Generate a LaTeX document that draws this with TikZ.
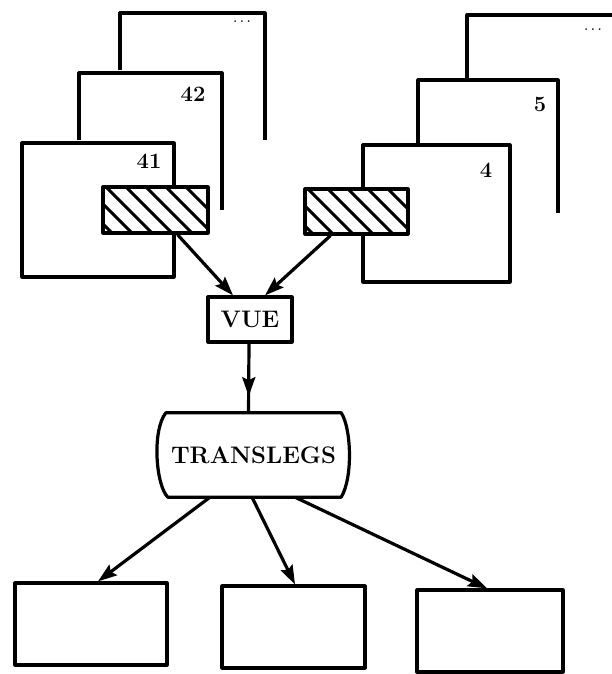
\documentclass[tikz,border=0pt]{standalone}
\usetikzlibrary{arrows.meta,calc,decorations.markings}
\begin{document}
\begin{tikzpicture}[x=1bp,y=-1bp,line join=round,
  ln/.style={line width=3.2bp},
  word/.style={font=\fontsize{24}{28}\selectfont\bfseries, inner sep=0pt},
  num/.style={font=\fontsize{22}{26}\selectfont\bfseries, inner sep=0pt},
  dots/.style={font=\fontsize{12}{14}\selectfont\bfseries, inner sep=0pt},
  sheet/.style={ln, draw, fill=white, rectangle, inner sep=0pt},
  hatchbox/.style={ln, draw, fill=white, rectangle, inner sep=0pt,
    path picture={\foreach \k in {-3,...,6}{
      \draw[line width=3bp] ($(path picture bounding box.north west)+(\k*20+3,0)$) -- ++(60,60);}}},
  box/.style={ln, draw, fill=white, rectangle, inner sep=0pt},
  tip/.style={-{Stealth[length=19bp,width=13bp,inset=3bp]}},
  midtip/.style={postaction=decorate, decoration={markings,
    mark=at position 0.76 with {\arrow{Stealth[length=19bp,width=13bp,inset=3bp]}}}}]
\useasboundingbox (0,0) rectangle (612,674);

% left stack of sheets
\draw[ln] (120,70) -- (120,13) -- (265,13) -- (265,140);
\node[dots] (dl) at (242,22) {.\hspace{3bp}.\hspace{3bp}.};
\draw[ln] (79,140) -- (79,73) -- (222,73) -- (222,210);
\node[num] (n42) at (193,94) {42};
\node[sheet, minimum width=152bp, minimum height=134bp] (s41) at (98,210) {};
\node[num] (n41) at (149,161) {41};
\node[hatchbox, minimum width=105bp, minimum height=46bp] (hatchL) at (155.5,210) {};

% right stack of sheets
\draw[ln] (467,78) -- (467,15) -- (612,15);
\node[dots] (dr) at (593,30) {.\hspace{3bp}.\hspace{3bp}.};
\draw[ln] (418,145) -- (418,80) -- (558,80) -- (558,213);
\node[num] (n5) at (540,104) {5};
\node[sheet, minimum width=147bp, minimum height=137bp] (s4) at (436.5,213.5) {};
\node[num] (n4) at (486,170) {4};
\node[hatchbox, minimum width=103bp, minimum height=45bp] (hatchR) at (356.5,211.5) {};

% view box
\node[box, word, minimum width=84bp, minimum height=45bp] (vue) at (250,319.5) {VUE};

% barrel-shaped block
\node[word, minimum width=175bp, minimum height=84bp] (trans) at (253.5,455) {TRANSLEGS};
\draw[ln] (trans.north west) -- (trans.north east)
  .. controls ($(trans.north east)+(10,15)$) and ($(trans.south east)+(12,-20)$) .. (trans.south east)
  -- ($(trans.south west)+(2,0)$)
  .. controls ($(trans.south west)+(-10,-12)$) and ($(trans.north west)+(-14,18)$) .. (trans.north west)
  -- cycle;

% output boxes
\node[box, minimum width=152bp, minimum height=82bp] (out1) at (91,624) {};
\node[box, minimum width=143bp, minimum height=82bp] (out2) at (293.5,627) {};
\node[box, minimum width=146bp, minimum height=82bp] (out3) at (490,631) {};

% connectors
\draw[ln,tip] ([xshift=22bp]hatchL.south) -- ([xshift=-17bp]vue.north);
\draw[ln,tip] ([xshift=-26bp]hatchR.south) -- ([xshift=15bp]vue.north);
\draw[ln,midtip] ([xshift=-1bp]vue.south) -- ([xshift=-5bp]trans.north);
\draw[ln,tip] ([xshift=-43.5bp]trans.south) -- ([xshift=7bp]out1.north);
\draw[ln,tip] ([xshift=-1.5bp]trans.south) -- ([xshift=1.5bp]out2.north);
\draw[ln,tip] ([xshift=41.5bp]trans.south) -- ([xshift=-3bp]out3.north);
\end{tikzpicture}
\end{document}
